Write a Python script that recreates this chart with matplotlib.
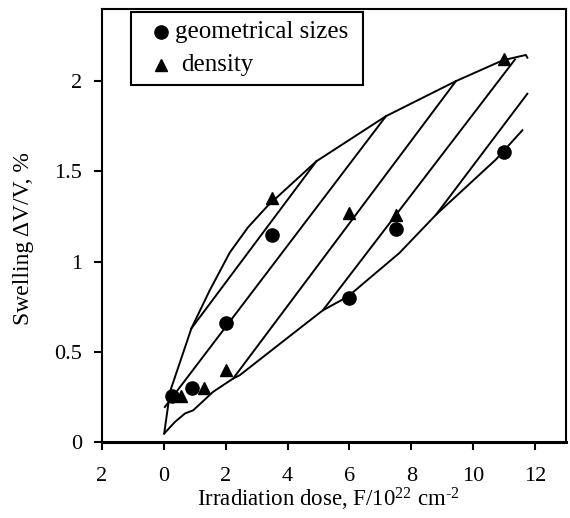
import matplotlib
matplotlib.use('Agg')
import matplotlib.pyplot as plt
from matplotlib.patches import Rectangle
from matplotlib.ticker import FuncFormatter

plt.rcParams['font.family'] = ['Liberation Serif', 'DejaVu Serif']
plt.rcParams['mathtext.fontset'] = 'custom'
plt.rcParams['mathtext.rm'] = 'Liberation Serif'
plt.rcParams['mathtext.default'] = 'regular'

# measured points
geom_x = [0.25, 0.9, 2.0, 3.5, 6.0, 7.5, 11.0]
geom_y = [0.256, 0.30, 0.66, 1.15, 0.797, 1.18, 1.61]
dens_x = [0.55, 1.3, 2.0, 3.5, 6.0, 7.5, 11.0]
dens_y = [0.255, 0.30, 0.40, 1.35, 1.27, 1.26, 2.12]

# upper and lower envelope curves
upper_x = [0.01, 0.2, 0.89, 1.48, 2.13, 2.72, 3.36, 4.93, 7.18, 9.44, 10.95, 11.32, 11.70, 11.75]
upper_y = [0.047, 0.28, 0.63, 0.84, 1.05, 1.19, 1.31, 1.556, 1.806, 2.00, 2.115, 2.13, 2.145, 2.13]
lower_x = [0.01, 0.35, 0.68, 0.95, 1.59, 2.24, 2.45, 4.39, 5.14, 5.95, 6.65, 7.61, 8.80, 10.73, 11.59]
lower_y = [0.047, 0.11, 0.158, 0.176, 0.278, 0.352, 0.37, 0.63, 0.73, 0.806, 0.908, 1.047, 1.26, 1.565, 1.728]

# straight dose lines (start, end)
diag_x = [(0.89, 4.93), (0.03, 7.18), (2.24, 9.44), (5.14, 11.35), (8.80, 11.75)]
diag_y = [(0.63, 1.556), (0.194, 1.806), (0.352, 2.00), (0.73, 2.12), (1.26, 1.93)]

fig = plt.figure(figsize=(5.7, 5.18), dpi=100)
ax = fig.add_axes([0.179, 0.1467, 0.814, 0.836])

lw = 1.4
ax.plot(upper_x, upper_y, color='black', lw=lw)
ax.plot(lower_x, lower_y, color='black', lw=lw)
for xs, ys in zip(diag_x, diag_y):
    ax.plot(xs, ys, color='black', lw=lw)

ax.plot(geom_x, geom_y, 'o', color='black', ms=9.5, ls='none')
ax.plot(dens_x, dens_y, '^', color='black', ms=9, ls='none')

ax.set_xlim(-2, 13)
ax.set_ylim(0, 2.4)
ax.set_xticks(range(-2, 13, 2))
ax.set_yticks([0, 0.5, 1, 1.5, 2])
ax.xaxis.set_major_formatter(FuncFormatter(lambda v, p: f'{abs(v):g}'))
ax.yaxis.set_major_formatter(FuncFormatter(lambda v, p: f'{v:g}'))
ax.tick_params(direction='out', length=5.8, width=1.5, labelsize=16)
ax.tick_params(axis='x', pad=12)
ax.tick_params(axis='y', pad=8.5)

for s in ['top', 'right', 'left']:
    ax.spines[s].set_linewidth(1.5)
ax.spines['bottom'].set_linewidth(2.2)

ax.set_xlabel('Irradiation dose, F/10$^{22}$ cm$^{\u2010 2}$', fontsize=16.5)
ax.xaxis.set_label_coords(0.487, -0.1)
ax.set_ylabel('Swelling ΔV/V, %', fontsize=17)
ax.yaxis.set_label_coords(-0.147, 0.47)

# legend box drawn by hand
ax.add_patch(Rectangle((0.062, 0.8245), 0.501, 0.1693, transform=ax.transAxes,
                       facecolor='white', edgecolor='black', lw=1.5, zorder=5))
ax.plot([0.1265], [0.9476], 'o', color='black', ms=9.5, transform=ax.transAxes, zorder=6)
ax.plot([0.1265], [0.8707], '^', color='black', ms=9, transform=ax.transAxes, zorder=6)
ax.text(0.1573, 0.9476, 'geometrical sizes', transform=ax.transAxes, fontsize=18,
        va='center', ha='left', zorder=6)
ax.text(0.170, 0.8707, 'density', transform=ax.transAxes, fontsize=18,
        va='center', ha='left', zorder=6)

fig.savefig('out.png', dpi=100)
